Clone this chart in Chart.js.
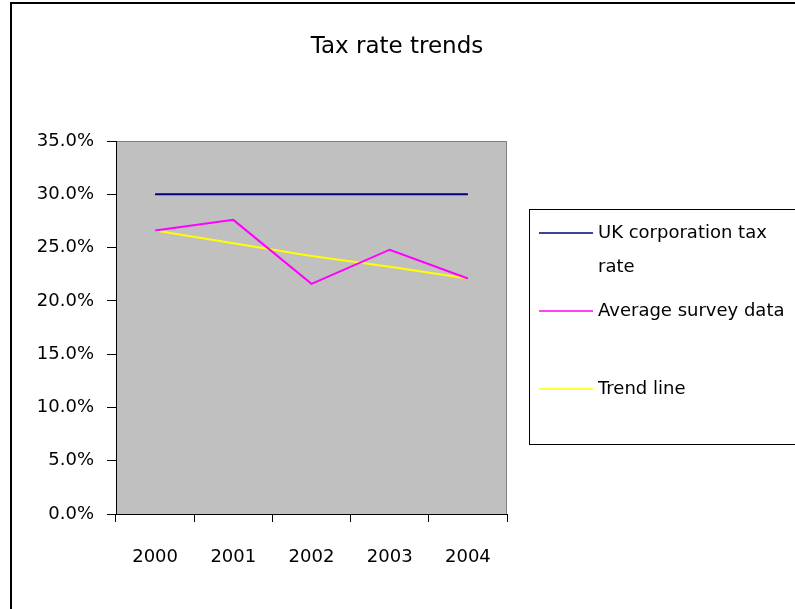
<!DOCTYPE html>
<html>
<head>
<meta charset="utf-8">
<script src="https://cdn.jsdelivr.net/npm/chart.js@4.4.1/dist/chart.umd.min.js"></script>
<style>
  html, body { margin: 0; padding: 0; background: #fff; }
  #wrap { width: 795px; height: 609px; }
</style>
</head>
<body>
<div id="wrap"><canvas id="chart" width="795" height="609"></canvas></div>
<script>
const years = ["2000", "2001", "2002", "2003", "2004"];
const ukRate = [0.30, 0.30, 0.30, 0.30, 0.30];
const surveyAvg = [0.266, 0.276, 0.216, 0.248, 0.221];
const trendLine = [0.266, 0.254, 0.242, 0.232, 0.221];
const yTicks = [0, 0.05, 0.10, 0.15, 0.20, 0.25, 0.30, 0.35];
const chartTitle = "Tax rate trends";

const FONT = "DejaVu Sans";

// grey plot area, outer chart border and the title (centred on the whole chart)
const plotArea = {
  id: "plotArea",
  beforeDraw(chart) {
    const { ctx, chartArea: a } = chart;
    ctx.save();
    ctx.fillStyle = "#c0c0c0";
    ctx.fillRect(a.left, a.top, a.right - a.left, a.bottom - a.top);
    ctx.strokeStyle = "#808080";
    ctx.lineWidth = 1;
    ctx.strokeRect(a.left + 0.5, a.top + 0.5, a.right - a.left - 1, a.bottom - a.top);
    ctx.strokeStyle = "#000";
    ctx.lineWidth = 2;
    ctx.strokeRect(11, 3, 900, 800);
    ctx.fillStyle = "#000";
    ctx.font = "23px " + FONT;
    ctx.textAlign = "center";
    ctx.textBaseline = "alphabetic";
    ctx.fillText(chartTitle, 397, 53);
    ctx.restore();
  },
};

// Excel-style boxed legend on the right
const boxLegend = {
  id: "boxLegend",
  afterDraw(chart, args, opts) {
    const { ctx } = chart;
    ctx.save();
    ctx.strokeStyle = "#000";
    ctx.lineWidth = 1;
    ctx.strokeRect(529.5, 209.5, 300, opts.boxHeight);
    ctx.font = "18px " + FONT;
    ctx.fillStyle = "#000";
    ctx.textBaseline = "middle";
    chart.data.datasets.forEach((ds, i) => {
      const y = opts.rows[i];
      ctx.strokeStyle = ds.borderColor;
      ctx.lineWidth = 1.5;
      ctx.beginPath();
      ctx.moveTo(539, y);
      ctx.lineTo(593, y);
      ctx.stroke();
      // wrap long labels
      const words = ds.label.split(" ");
      let line = "", ly = y;
      words.forEach((w) => {
        const test = line ? line + " " + w : w;
        if (ctx.measureText(test).width > opts.maxWidth && line) {
          ctx.fillText(line, 598, ly);
          line = w;
          ly += opts.lineGap;
        } else {
          line = test;
        }
      });
      ctx.fillText(line, 598, ly);
    });
    ctx.restore();
  },
};

new Chart(document.getElementById("chart"), {
  type: "line",
  data: {
    labels: years,
    datasets: [
      { label: "UK corporation tax rate", data: ukRate, borderColor: "#000080" },
      { label: "Average survey data", data: surveyAvg, borderColor: "#ff00ff" },
      { label: "Trend line", data: trendLine, borderColor: "#ffff00" },
    ],
  },
  options: {
    responsive: false,
    animation: false,
    layout: { padding: { left: 0, right: 288, top: 141, bottom: 0 } },
    elements: {
      line: { borderWidth: 2, tension: 0 },
      point: { radius: 0 },
    },
    scales: {
      x: {
        offset: true,
        grid: { offset: true, drawOnChartArea: false, tickLength: 8, color: "#000" },
        border: { color: "#000" },
        ticks: { color: "#000", font: { family: FONT, size: 18 }, padding: 25, maxRotation: 0 },
        afterFit(s) { s.height = 95; },
      },
      y: {
        min: 0,
        max: 0.35,
        grid: { drawOnChartArea: false, tickLength: 9, color: "#000" },
        border: { color: "#000" },
        afterBuildTicks(s) { s.ticks = yTicks.map((v) => ({ value: v })); },
        ticks: {
          color: "#000",
          font: { family: FONT, size: 18 },
          padding: 13,
          callback: (v) => (v * 100).toFixed(1) + "%",
        },
        afterFit(s) { s.width = 116; },
      },
    },
    plugins: {
      legend: { display: false },
      tooltip: { enabled: false },
      title: { display: false },
      boxLegend: { rows: [233, 311, 389], lineGap: 34, maxWidth: 190, boxHeight: 235 },
    },
  },
  plugins: [plotArea, boxLegend],
});
</script>
</body>
</html>
